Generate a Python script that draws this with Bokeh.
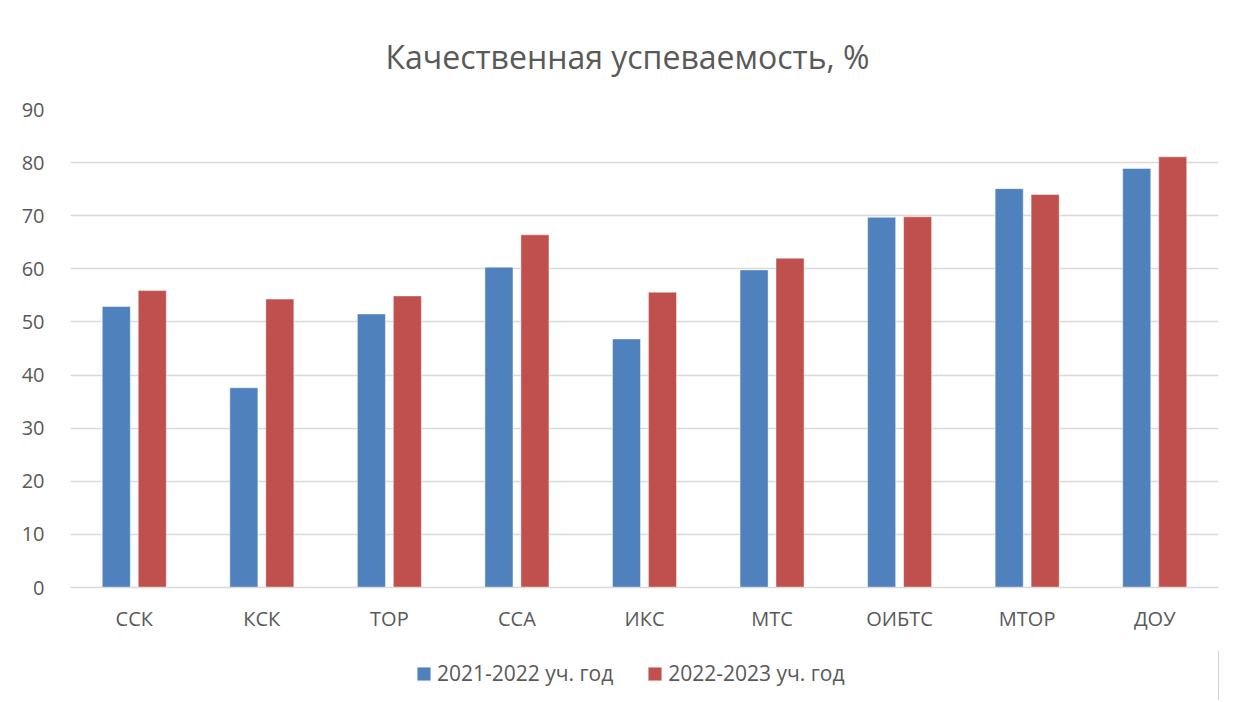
from bokeh.plotting import figure
from bokeh.layouts import column
from bokeh.models import (ColumnDataSource, FactorRange, Legend, LegendItem,
                          FixedTicker, Range1d)
from bokeh.transform import dodge
from bokeh.embed import file_html
from bokeh.resources import INLINE

categories = ["ССК", "КСК", "ТОР", "ССА", "ИКС", "МТС", "ОИБТС", "МТОР", "ДОУ"]
series_names = ["2021-2022 уч. год", "2022-2023 уч. год"]
values_2021 = [52.9, 37.6, 51.5, 60.3, 46.8, 59.8, 69.7, 75.1, 78.9]
values_2022 = [55.9, 54.3, 54.9, 66.4, 55.6, 62.0, 69.8, 74.0, 81.1]
y_ticks = [0, 10, 20, 30, 40, 50, 60, 70, 80, 90]
title_text = "Качественная успеваемость, %"

FONT = "Open Sans"
TXT = "#595959"
GRID = "#D9D9D9"
BLUE = "#4F81BD"
RED = "#C0504D"

src = ColumnDataSource(dict(cat=categories, a=values_2021, b=values_2022))

# ---- main chart ----
p = figure(frame_width=1148, frame_height=478,
           x_range=FactorRange(*categories, range_padding=0),
           y_range=Range1d(0, 90), output_backend="svg", toolbar_location=None,
           min_border_left=70, min_border_right=1, min_border_top=109, min_border_bottom=63)
p.outline_line_color = None
p.background_fill_color = "white"
p.border_fill_color = "white"

p.vbar(x=dodge("cat", -0.141, range=p.x_range), top="a", width=0.22, source=src,
       fill_color=BLUE, line_color="white", line_alpha=0.45, line_width=1)
p.vbar(x=dodge("cat", 0.141, range=p.x_range), top="b", width=0.22, source=src,
       fill_color=RED, line_color="white", line_alpha=0.45, line_width=1)

p.title.text = title_text
p.title.align = "left"
p.title.offset = 315
p.title.standoff = 63
p.title.text_font = FONT
p.title.text_font_size = "32px"
p.title.text_color = TXT
p.title.text_font_style = "normal"

p.yaxis.ticker = FixedTicker(ticks=y_ticks)
p.yaxis.axis_line_color = None
p.yaxis.major_tick_line_color = None
p.yaxis.minor_tick_line_color = None
p.yaxis.major_label_standoff = 20
p.yaxis.major_label_text_font = FONT
p.yaxis.major_label_text_font_size = "20px"
p.yaxis.major_label_text_color = TXT

p.xaxis.axis_line_color = GRID
p.xaxis.axis_line_width = 1.3
p.xaxis.major_tick_line_color = None
p.xaxis.minor_tick_line_color = None
p.xaxis.major_tick_out = 0
p.xaxis.major_label_standoff = 17
p.xaxis.major_label_text_font = FONT
p.xaxis.major_label_text_font_size = "20px"
p.xaxis.major_label_text_color = TXT

p.xgrid.grid_line_color = None
p.ygrid.grid_line_color = GRID
p.ygrid.grid_line_width = 1.3

# ---- legend strip (proxy renderers lie outside its ranges, only the legend shows) ----
p2 = figure(width=1219, height=50, x_range=Range1d(0, 1), y_range=Range1d(0, 1),
            output_backend="svg", toolbar_location=None,
            x_axis_location=None, y_axis_location=None,
            min_border_left=0, min_border_right=0, min_border_top=0, min_border_bottom=0)
p2.outline_line_color = None
p2.xgrid.grid_line_color = None
p2.ygrid.grid_line_color = None
p2.background_fill_color = "white"
p2.border_fill_color = "white"

proxy = ColumnDataSource(dict(x=[5], top=[1]))
l1 = p2.vbar(x="x", top="top", width=0.1, source=proxy,
             fill_color=BLUE, line_color="white", line_alpha=0.45)
l2 = p2.vbar(x="x", top="top", width=0.1, source=proxy,
             fill_color=RED, line_color="white", line_alpha=0.45)

legend = Legend(items=[LegendItem(label=series_names[0], renderers=[l1]),
                       LegendItem(label=series_names[1], renderers=[l2])],
                orientation="horizontal", location=(345, 13),
                glyph_width=17, glyph_height=17, label_standoff=5, spacing=33,
                padding=0, margin=0, border_line_color=None, background_fill_alpha=0,
                label_text_font=FONT, label_text_font_size="21px", label_text_color=TXT)
p2.add_layout(legend, "center")

layout = column(p, p2)
open("out.html", "w").write(file_html(layout, INLINE))
